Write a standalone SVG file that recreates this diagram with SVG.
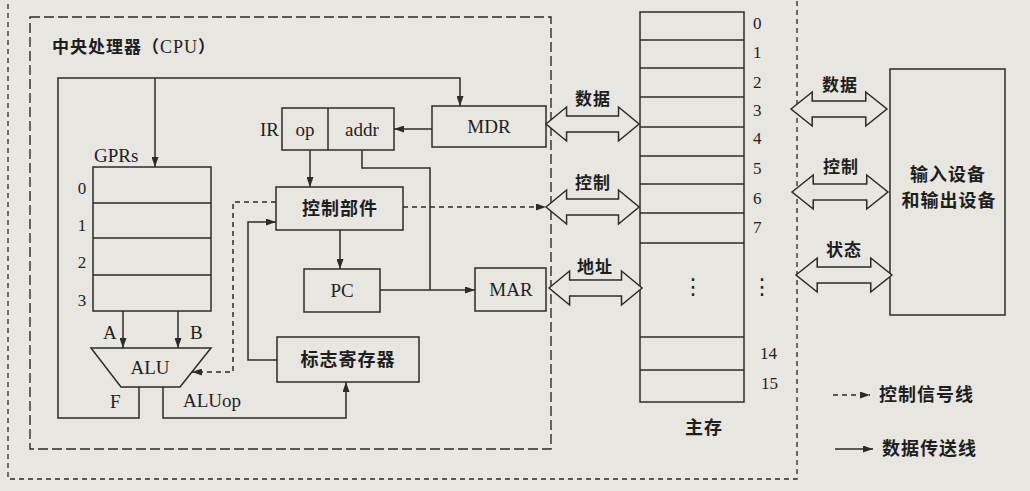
<svg xmlns="http://www.w3.org/2000/svg" width="1030" height="491" viewBox="0 0 1030 491">
<style>
.bg{fill:#e8e6e1}
.box{fill:none;stroke:#2b2b2b;stroke-width:1.5}
.ln{fill:none;stroke:#2b2b2b;stroke-width:1.5}
.dash{fill:none;stroke:#2b2b2b;stroke-width:1.5;stroke-dasharray:5 4}
.cpu{fill:none;stroke:#2b2b2b;stroke-width:1.4;stroke-dasharray:10 4}
.outer{fill:none;stroke:#2b2b2b;stroke-width:1.3;stroke-dasharray:5 4}
.bus{fill:#e8e6e1;stroke:#2b2b2b;stroke-width:1.5;stroke-linejoin:miter}
.en{font-family:"Liberation Serif",serif;font-size:19px;fill:#1e1e1e}
.num{font-family:"Liberation Serif",serif;font-size:17px;fill:#1e1e1e}
.dots{font-family:"DejaVu Sans",sans-serif;font-size:22px;fill:#1e1e1e;text-anchor:middle}
.zh{font-family:"Noto Sans CJK SC",sans-serif;font-size:17px;fill:#1e1e1e;letter-spacing:1px;font-weight:bold}
.zhb{font-family:"Noto Sans CJK SC",sans-serif;font-size:18px;fill:#1e1e1e;letter-spacing:1px;font-weight:bold}
.c{text-anchor:middle}
.ser{font-family:"Liberation Serif",serif;font-weight:normal;font-size:18px}
</style>
<defs>
<marker id="ah" viewBox="0 0 10 7" refX="10" refY="3.5" markerWidth="10" markerHeight="7" markerUnits="userSpaceOnUse" orient="auto">
<path d="M0,0 L10,3.5 L0,7 z" fill="#2b2b2b"/>
</marker>
<path id="busR" d="M0,0 L21,-17 L21,-8 L74,-8 L74,-17 L95,0 L74,17 L74,8 L21,8 L21,17 Z"/>
</defs>
<rect class="bg" x="0" y="0" width="1030" height="491"/>

<g id="boundaries">
<path class="outer" d="M8,-5 V479 H797 V-5"/>
<rect class="cpu" x="30" y="17" width="521" height="432"/>
<text class="zh" x="52" y="53">中央处理器（<tspan class="ser">CPU</tspan>）</text>
</g>

<g id="gprs">
<rect class="box" x="93" y="167" width="118" height="144"/>
<path class="ln" d="M93,203 H211 M93,238 H211 M93,275 H211"/>
<text class="en" x="94" y="162">GPRs</text>
<text class="num c" x="82" y="194">0</text>
<text class="num c" x="82" y="231">1</text>
<text class="num c" x="82" y="268">2</text>
<text class="num c" x="82" y="306">3</text>
</g>

<g id="alu">
<polygon class="box" points="91,348 211,348 180,387 121,387"/>
<text class="en c" x="150" y="374">ALU</text>
</g>

<g id="ir">
<rect class="box" x="282" y="108" width="112" height="42"/>
<path class="ln" d="M328,108 V150"/>
<text class="en" x="279" y="136" text-anchor="end">IR</text>
<text class="en c" x="305" y="136">op</text>
<text class="en c" x="362" y="136">addr</text>
</g>

<g id="mdr">
<rect class="box" x="432" y="106" width="114" height="41"/>
<text class="en c" x="489" y="133">MDR</text>
</g>

<g id="control">
<rect class="box" x="276" y="187" width="127" height="43"/>
<text class="zhb c" x="340" y="215">控制部件</text>
</g>

<g id="pc">
<rect class="box" x="304" y="269" width="76" height="43"/>
<text class="en c" x="342" y="297">PC</text>
</g>

<g id="mar">
<rect class="box" x="475" y="268" width="71" height="43"/>
<text class="en c" x="511" y="296">MAR</text>
</g>

<g id="flags">
<rect class="box" x="277" y="337" width="142" height="45"/>
<text class="zhb c" x="348" y="366">标志寄存器</text>
</g>

<g id="memory">
<rect class="box" x="640" y="12" width="104" height="390"/>
<path class="ln" d="M640,40 H744 M640,68 H744 M640,97 H744 M640,127 H744 M640,156 H744 M640,184 H744 M640,213 H744 M640,243 H744 M640,337 H744 M640,370 H744"/>
<text class="num" x="753" y="29">0</text>
<text class="num" x="753" y="58">1</text>
<text class="num" x="753" y="88">2</text>
<text class="num" x="753" y="116">3</text>
<text class="num" x="753" y="144">4</text>
<text class="num" x="753" y="174">5</text>
<text class="num" x="753" y="204">6</text>
<text class="num" x="753" y="233">7</text>
<text class="dots" x="693" y="294">⋮</text>
<text class="dots" x="762" y="294">⋮</text>
<text class="num" x="760" y="359">14</text>
<text class="num" x="761" y="389">15</text>
<text class="zhb c" x="704" y="434">主存</text>
</g>

<g id="io">
<rect class="box" x="890" y="69" width="115" height="246"/>
<text class="zhb c" x="948" y="181">输入设备</text>
<text class="zhb c" x="949" y="207">和输出设备</text>
</g>

<g id="buses">
<use href="#busR" class="bus" transform="translate(546,124) scale(0.98,1)"/>
<text class="zh c" x="593" y="105">数据</text>
<use href="#busR" class="bus" transform="translate(546,207) scale(0.98,1)"/>
<text class="zh c" x="593" y="189">控制</text>
<use href="#busR" class="bus" transform="translate(549,288) scale(0.98,1)"/>
<text class="zh c" x="595" y="273">地址</text>
<use href="#busR" class="bus" transform="translate(791,109) scale(1.01,1)"/>
<text class="zh c" x="840" y="91">数据</text>
<use href="#busR" class="bus" transform="translate(792,192) scale(1.01,1)"/>
<text class="zh c" x="841" y="173">控制</text>
<use href="#busR" class="bus" transform="translate(796,275) scale(1.01,1)"/>
<text class="zh c" x="844" y="256">状态</text>
</g>

<g id="connectors">
<path class="ln" d="M139,387 V418 H58 V78 H460 V106" marker-end="url(#ah)"/>
<path class="ln" d="M155,78 V167" marker-end="url(#ah)"/>
<path class="ln" d="M123,311 V348" marker-end="url(#ah)"/>
<path class="ln" d="M178,311 V348" marker-end="url(#ah)"/>
<path class="ln" d="M163,387 V418 H346 V382" marker-end="url(#ah)"/>
<path class="ln" d="M277,360 H248 V222 H276" marker-end="url(#ah)"/>
<path class="dash" d="M276,202 H233 V372 H192" marker-end="url(#ah)"/>
<path class="dash" d="M403,207 H546" marker-end="url(#ah)"/>
<path class="ln" d="M432,129 H394" marker-end="url(#ah)"/>
<path class="ln" d="M310,150 V187" marker-end="url(#ah)"/>
<path class="ln" d="M340,230 V269" marker-end="url(#ah)"/>
<path class="ln" d="M380,290 H475" marker-end="url(#ah)"/>
<path class="ln" d="M362,150 V168 H430 V290"/>
<text class="en" x="103" y="339">A</text>
<text class="en" x="190" y="339">B</text>
<text class="en" x="110" y="408">F</text>
<text class="en" x="183" y="407">ALUop</text>
</g>

<g id="legend">
<path class="dash" d="M833,395 H870" marker-end="url(#ah)"/>
<text class="zhb" x="879" y="401">控制信号线</text>
<path class="ln" d="M835,449 H873" marker-end="url(#ah)"/>
<text class="zhb" x="882" y="455">数据传送线</text>
</g>
</svg>
